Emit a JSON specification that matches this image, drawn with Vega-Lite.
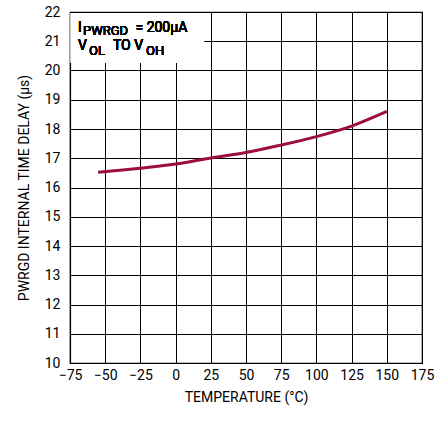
{
  "$schema": "https://vega.github.io/schema/vega-lite/v6.json",
  "width": 352,
  "height": 351,
  "autosize": "none",
  "padding": {"left": 70, "top": 12, "right": 17, "bottom": 58},
  "background": "white",
  "config": {
    "font": "Roboto",
    "view": {"stroke": "black", "strokeWidth": 1.2},
    "text": {"fontWeight": "normal"},
    "axis": {
      "grid": true,
      "gridColor": "black",
      "gridOpacity": 1,
      "gridWidth": 1,
      "domainColor": "black",
      "domainWidth": 1.2,
      "ticks": false,
      "labelFont": "Roboto",
      "labelFontSize": 14,
      "labelColor": "black",
      "labelOverlap": false,
      "labelBound": false,
      "labelFlush": false,
      "titleFont": "Roboto",
      "titleFontSize": 14,
      "titleFontWeight": "normal",
      "titleColor": "black"
    }
  },
  "data": {
    "values": [
      {"temp": -55, "delay": 16.52},
      {"temp": -25, "delay": 16.66},
      {"temp": 0, "delay": 16.8},
      {"temp": 25, "delay": 17.01},
      {"temp": 50, "delay": 17.2},
      {"temp": 75, "delay": 17.45},
      {"temp": 100, "delay": 17.74},
      {"temp": 125, "delay": 18.1},
      {"temp": 150, "delay": 18.6}
    ]
  },
  "encoding": {
    "x": {
      "type": "quantitative",
      "scale": {"domain": [-75, 175], "nice": false},
      "axis": {"values": [-75, -50, -25, 0, 25, 50, 75, 100, 125, 150, 175], "labelPadding": 5, "title": "TEMPERATURE (°C)", "titlePadding": 8}
    },
    "y": {
      "type": "quantitative",
      "scale": {"domain": [10, 22], "nice": false, "zero": false},
      "axis": {"values": [10, 11, 12, 13, 14, 15, 16, 17, 18, 19, 20, 21, 22], "labelPadding": 10, "title": "PWRGD INTERNAL TIME DELAY (µs)", "titlePadding": 13}
    }
  },
  "layer": [
    {
      "mark": {"type": "rect", "fill": "white", "stroke": null},
      "encoding": {
        "x": {"datum": -74.4},
        "x2": {"datum": 20.2},
        "y": {"datum": 20.26},
        "y2": {"datum": 21.97}
      }
    },
    {
      "mark": {"type": "line", "color": "#9b0f3a", "strokeWidth": 3, "interpolate": "monotone"},
      "encoding": {"x": {"field": "temp"}, "y": {"field": "delay"}}
    },
    {
      "mark": {"type": "text", "text": "I", "align": "left", "baseline": "alphabetic", "fontSize": 14, "fontWeight": "normal", "font": "Roboto", "color": "black"},
      "encoding": {"x": {"datum": -69.3}, "y": {"datum": 21.32}}
    },
    {
      "mark": {"type": "text", "text": "PWRGD", "align": "left", "baseline": "alphabetic", "fontSize": 13, "fontWeight": "normal", "font": "Roboto", "color": "black"},
      "encoding": {"x": {"datum": -65.8}, "y": {"datum": 21.21}}
    },
    {
      "mark": {"type": "text", "text": "= 200µA", "align": "left", "baseline": "alphabetic", "fontSize": 14, "fontWeight": "normal", "font": "Roboto", "color": "black"},
      "encoding": {"x": {"datum": -28.5}, "y": {"datum": 21.32}}
    },
    {
      "mark": {"type": "text", "text": "V", "align": "left", "baseline": "alphabetic", "fontSize": 14, "fontWeight": "normal", "font": "Roboto", "color": "black"},
      "encoding": {"x": {"datum": -69.3}, "y": {"datum": 20.7}}
    },
    {
      "mark": {"type": "text", "text": "OL", "align": "left", "baseline": "alphabetic", "fontSize": 13, "fontWeight": "normal", "font": "Roboto", "color": "black"},
      "encoding": {"x": {"datum": -61.5}, "y": {"datum": 20.53}}
    },
    {
      "mark": {"type": "text", "text": "TO V", "align": "left", "baseline": "alphabetic", "fontSize": 14, "fontWeight": "normal", "font": "Roboto", "color": "black"},
      "encoding": {"x": {"datum": -44.5}, "y": {"datum": 20.7}}
    },
    {
      "mark": {"type": "text", "text": "OH", "align": "left", "baseline": "alphabetic", "fontSize": 13, "fontWeight": "normal", "font": "Roboto", "color": "black"},
      "encoding": {"x": {"datum": -21.0}, "y": {"datum": 20.53}}
    }
  ]
}
